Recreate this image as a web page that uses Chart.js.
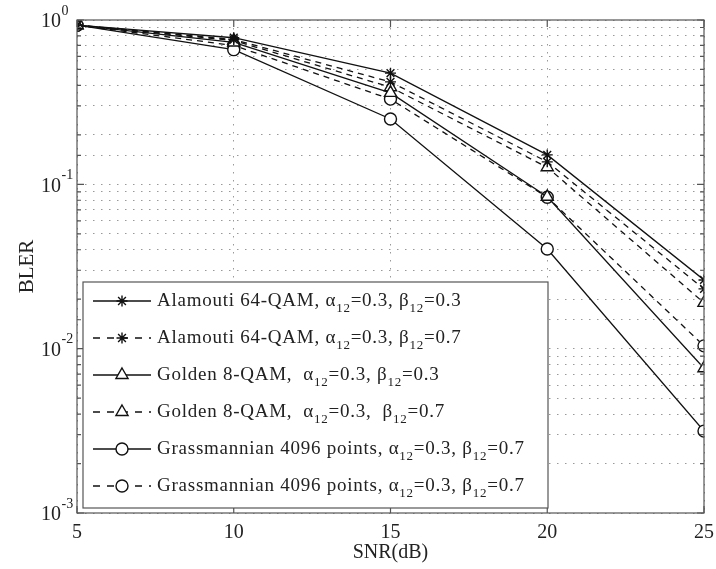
<!DOCTYPE html>
<html>
<head>
<meta charset="utf-8">
<script src="https://cdn.jsdelivr.net/npm/chart.js@4.4.1/dist/chart.umd.min.js"></script>
<style>
  html, body { margin: 0; padding: 0; background: #fff; }
  #wrap { width: 716px; height: 569px; position: relative; }
</style>
</head>
<body>
<div id="wrap"><canvas id="c" width="716" height="569"></canvas></div>
<script>
// ---- data ----
const snr = [5, 10, 15, 20, 25];
const alamoutiB03 = [0.93, 0.78, 0.475, 0.151, 0.0262];
const alamoutiB07 = [0.93, 0.76, 0.42, 0.137, 0.0231];
const goldenB03   = [0.93, 0.73, 0.36, 0.084, 0.0076];
const goldenB07   = [0.93, 0.75, 0.39, 0.127, 0.019];
const grassSolid  = [0.93, 0.66, 0.25, 0.0404, 0.00315];
const grassDashed = [0.93, 0.70, 0.33, 0.0835, 0.0104];
const seriesNames = [
  "Alamouti 64-QAM, α_{12}=0.3, β_{12}=0.3",
  "Alamouti 64-QAM, α_{12}=0.3, β_{12}=0.7",
  "Golden 8-QAM,  α_{12}=0.3, β_{12}=0.3",
  "Golden 8-QAM,  α_{12}=0.3,  β_{12}=0.7",
  "Grassmannian 4096 points, α_{12}=0.3, β_{12}=0.7",
  "Grassmannian 4096 points, α_{12}=0.3, β_{12}=0.7"
];
const xTicks = [5, 10, 15, 20, 25];
const yDecades = [1, 0.1, 0.01, 0.001];
const xTitle = "SNR(dB)";
const yTitle = "BLER";

const FONT = "'Liberation Serif', 'DejaVu Serif', serif";
const TXT = '#222';
const LINE = '#111';
const series = [alamoutiB03, alamoutiB07, goldenB03, goldenB07, grassSolid, grassDashed];
const styles = [
  { ps: 'star', r: 5.5, dash: [] },
  { ps: 'star', r: 5.5, dash: [6, 5] },
  { ps: 'triangle', r: 7, dash: [] },
  { ps: 'triangle', r: 7, dash: [6, 5] },
  { ps: 'circle', r: 6, dash: [] },
  { ps: 'circle', r: 6, dash: [6, 5] }
];

const datasets = series.map((vals, i) => ({
  label: seriesNames[i].replace(/_\{(\d+)\}/g, '$1'),
  data: vals.map((v, j) => ({ x: snr[j], y: v })),
  borderColor: LINE,
  borderWidth: 1.3,
  borderDash: styles[i].dash,
  pointStyle: styles[i].ps,
  pointRadius: styles[i].r,
  pointBackgroundColor: '#fff',
  pointBorderColor: LINE,
  pointBorderWidth: 1.4,
  tension: 0,
  fill: false
}));

function drawMarker(ctx, style, r, x, y) {
  ctx.save();
  ctx.strokeStyle = LINE; ctx.fillStyle = '#fff'; ctx.lineWidth = 1.4; ctx.setLineDash([]);
  if (Chart.helpers && Chart.helpers.drawPoint) {
    Chart.helpers.drawPoint(ctx, { pointStyle: style, radius: r, rotation: 0, borderWidth: 1.4 }, x, y);
  }
  ctx.restore();
}

function drawRich(ctx, text, x, y, size, spacing) {
  const parts = text.split(/(_\{\d+\})/);
  let cx = x;
  if ('letterSpacing' in ctx) ctx.letterSpacing = spacing + 'px';
  parts.forEach(p => {
    if (!p) return;
    const m = p.match(/^_\{(\d+)\}$/);
    if (m) {
      ctx.font = Math.round(size * 0.7) + 'px ' + FONT;
      ctx.fillText(m[1], cx, y + size * 0.42);
      cx += ctx.measureText(m[1]).width;
    } else {
      ctx.font = size + 'px ' + FONT;
      ctx.fillText(p, cx, y);
      cx += ctx.measureText(p).width;
    }
  });
  if ('letterSpacing' in ctx) ctx.letterSpacing = '0px';
  return cx;
}

const decorPlugin = {
  id: 'decor',
  afterDraw(chart) {
    const ctx = chart.ctx;
    const a = chart.chartArea;
    const xs = chart.scales.x, ys = chart.scales.y;
    ctx.save();
    // box
    ctx.strokeStyle = '#555'; ctx.lineWidth = 1.2; ctx.setLineDash([]);
    ctx.strokeRect(a.left, a.top, a.right - a.left, a.bottom - a.top);
    // inward ticks
    ctx.beginPath();
    ys.ticks.forEach(t => {
      const py = ys.getPixelForValue(t.value);
      const major = yDecades.some(d => Math.abs(d - t.value) / d < 1e-6);
      const len = major ? 7 : 4;
      ctx.moveTo(a.left, py); ctx.lineTo(a.left + len, py);
      ctx.moveTo(a.right, py); ctx.lineTo(a.right - len, py);
    });
    xTicks.forEach(v => {
      const px = xs.getPixelForValue(v);
      ctx.moveTo(px, a.bottom); ctx.lineTo(px, a.bottom - 7);
      ctx.moveTo(px, a.top); ctx.lineTo(px, a.top + 7);
    });
    ctx.stroke();
    // y tick labels with superscript exponent
    ctx.fillStyle = TXT; ctx.textBaseline = 'middle';
    yDecades.forEach(d => {
      const py = ys.getPixelForValue(d);
      const e = Math.round(Math.log10(d));
      ctx.font = '20px ' + FONT; ctx.textAlign = 'right';
      ctx.fillText('10', 61, py + 2);
      ctx.font = '14px ' + FONT; ctx.textAlign = 'left';
      ctx.fillText(String(e), 61.5, py - 9);
    });
    // legend
    const L = { x: 83, y: 282, w: 465, h: 226 };
    ctx.fillStyle = '#fff';
    ctx.fillRect(L.x, L.y, L.w, L.h);
    ctx.strokeStyle = '#555'; ctx.lineWidth = 1.2;
    ctx.strokeRect(L.x, L.y, L.w, L.h);
    seriesNames.forEach((name, i) => {
      const ry = 301 + i * 37;
      ctx.strokeStyle = LINE; ctx.lineWidth = 1.3;
      ctx.setLineDash(styles[i].dash.length ? [7, 7] : []);
      ctx.beginPath(); ctx.moveTo(93, ry); ctx.lineTo(151, ry); ctx.stroke();
      ctx.setLineDash([]);
      drawMarker(ctx, styles[i].ps, styles[i].r, 122, ry);
      ctx.fillStyle = TXT; ctx.textAlign = 'left'; ctx.textBaseline = 'middle';
      drawRich(ctx, name, 157, ry, 19, 0.75);
    });
    ctx.restore();
  }
};

new Chart(document.getElementById('c'), {
  type: 'line',
  data: { datasets },
  plugins: [decorPlugin],
  options: {
    responsive: false,
    animation: false,
    layout: { padding: { top: 20, right: 12, left: 0, bottom: 0 } },
    plugins: { legend: { display: false }, tooltip: { enabled: false } },
    elements: { line: { borderCapStyle: 'butt' } },
    scales: {
      x: {
        type: 'linear', min: 5, max: 25,
        afterBuildTicks: s => { s.ticks = xTicks.map(v => ({ value: v })); },
        afterFit: s => { s.height = 56; s.paddingLeft = 0; s.paddingRight = 0; },
        grid: { color: '#999', lineWidth: 1, drawTicks: false },
        border: { display: false, dash: [1.5, 6.5] },
        ticks: { color: TXT, font: { family: FONT, size: 20 }, padding: 8, maxRotation: 0 },
        title: { display: true, text: xTitle, color: TXT, font: { family: FONT, size: 20 }, padding: { top: 0, bottom: 4 } }
      },
      y: {
        type: 'logarithmic', min: 0.001, max: 1,
        afterFit: s => { s.width = 77; s.paddingTop = 0; s.paddingBottom = 0; },
        grid: { color: '#999', lineWidth: 1, drawTicks: false },
        border: { display: false, dash: [1.5, 6.5] },
        ticks: { autoSkip: false, callback: () => '', padding: 0 },
        title: { display: true, text: yTitle, color: TXT, font: { family: FONT, size: 21 }, padding: { top: 15, bottom: 0 } }
      }
    }
  }
});
</script>
</body>
</html>
